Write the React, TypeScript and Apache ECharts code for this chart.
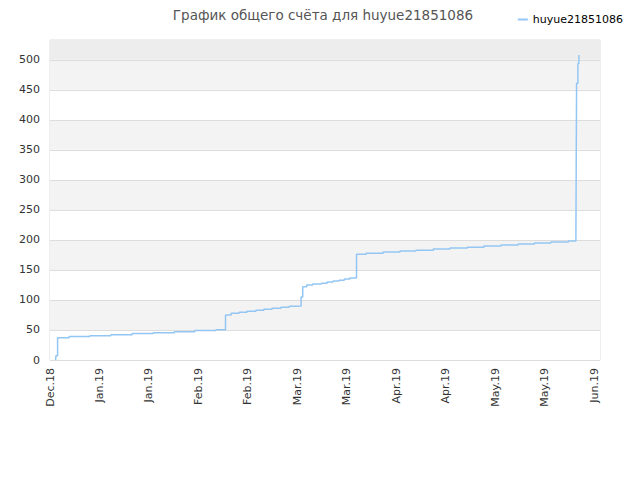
import React, { useEffect, useRef } from 'react';
import * as echarts from 'echarts';

// подписи оси X (шаг = 15 дней)
const xLabels = ['Dec.18', 'Jan.19', 'Jan.19', 'Feb.19', 'Feb.19', 'Mar.19', 'Mar.19', 'Apr.19', 'Apr.19', 'May.19', 'May.19', 'Jun.19'];
const labelStep = 15;

// дни от первой подписи и значения счёта
const days = [1.7, 1.8, 2.3, 5.8, 12.1, 18.4, 24.9, 31.3, 37.7, 43.9, 50.3, 53.2, 54.9, 57.3, 59.7, 62.4, 64.8, 67.3, 70.0, 72.5, 75.1, 76.1, 76.6, 77.8, 79.6, 82.3, 84.0, 85.8, 87.6, 89.2, 90.9, 92.9, 95.8, 101.0, 106.1, 110.9, 116.2, 121.2, 126.5, 131.5, 136.7, 141.9, 146.8, 151.8, 157.1, 159.4, 159.6, 160.0, 160.3];
const scores = [0, 7, 37, 39, 40.5, 42, 44, 45.5, 47, 49, 50.5, 75, 78, 79.5, 81, 83, 84.5, 86, 88, 89.5, 90, 105, 122, 125, 126.7, 128, 130, 131.7, 133, 135, 136.7, 176, 178, 180, 181.7, 183, 185, 186.7, 188, 190, 191.7, 193.3, 195, 196.7, 198.3, 208, 461, 494, 508];

const seriesName = 'huyue21851086';

const App: React.FC = () => {
	const chartRef = useRef<HTMLDivElement>(null);

	useEffect(() => {
		if (!chartRef.current) return;
		const chart = echarts.init(chartRef.current, null, { renderer: 'svg' });

		const option: echarts.EChartsOption = {
			animation: false,
			backgroundColor: '#fff',
			textStyle: { fontFamily: 'DejaVu Sans, sans-serif' },
			title: {
				text: 'График общего счёта для huyue21851086',
				left: 318,
				textAlign: 'center',
				top: 3,
				textStyle: { fontSize: 13.5, fontWeight: 'normal', color: '#555' }
			},
			legend: {
				right: 12,
				top: 9,
				itemWidth: 10,
				itemHeight: 2,
				itemGap: 5,
				textStyle: { fontSize: 11, color: '#000' },
				data: [{ name: seriesName, icon: 'rect' }]
			},
			grid: {
				left: 50,
				right: 40,
				top: 40,
				bottom: 120,
				show: true,
				borderColor: '#ddd',
				borderWidth: 1
			},
			xAxis: {
				type: 'value',
				min: 0,
				max: 166.7,
				interval: labelStep,
				axisLine: { show: false },
				axisTick: { show: false },
				splitLine: { show: false },
				axisLabel: {
					rotate: 90,
					fontSize: 11,
					color: '#333',
					margin: 8,
					showMaxLabel: false,
					formatter: (v: number) => {
						const i = Math.round(v / labelStep);
						return Math.abs(v - i * labelStep) < 0.01 ? xLabels[i] ?? '' : '';
					}
				}
			},
			yAxis: {
				type: 'value',
				min: 0,
				max: 533,
				interval: 50,
				axisLine: { show: false },
				axisTick: { show: false },
				axisLabel: {
					fontSize: 11,
					color: '#333',
					margin: 10,
					showMaxLabel: false,
					formatter: (v: number) => (v % 50 === 0 ? String(v) : '')
				},
				splitLine: { lineStyle: { color: '#ddd' } },
				splitArea: { show: true, areaStyle: { color: ['#fff', '#f3f3f3'] } }
			},
			series: [
				{
					name: seriesName,
					type: 'line',
					step: 'end',
					showSymbol: false,
					data: days.map((d, i) => [d, scores[i]]),
					lineStyle: { color: '#94c6f4', width: 1.5 },
					itemStyle: { color: '#94c6f4' },
					markArea: {
						silent: true,
						itemStyle: { color: '#ededed' },
						data: [[{ yAxis: 500 }, { yAxis: 533 }]]
					}
				}
			]
		};

		chart.setOption(option);
		return () => {
			chart.dispose();
		};
	}, []);

	return <div ref={chartRef} style={{ width: 640, height: 480, margin: -8 }} />;
};

export default App;
